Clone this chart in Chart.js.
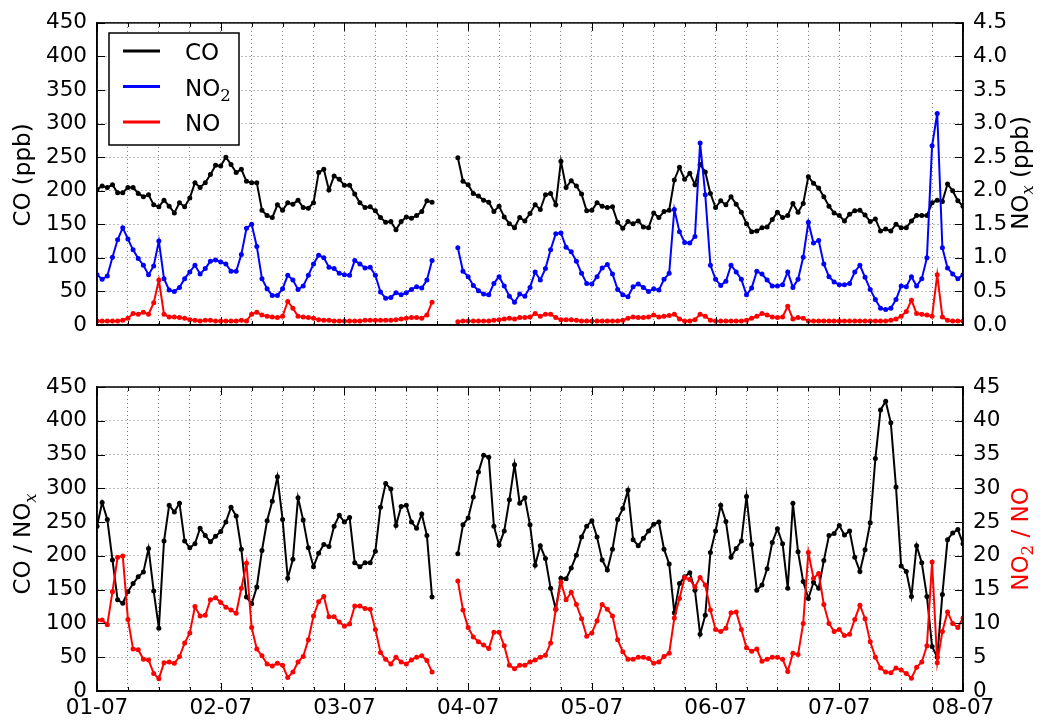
<!DOCTYPE html>
<html>
<head>
<title>CO and NOx time series</title>
<script src="https://cdn.jsdelivr.net/npm/chart.js"></script>
<style>
  body { margin: 0; background: white; }
  canvas { position: absolute; left: 0; }
</style>
</head>
<body>
<canvas id="top" width="1044" height="360" style="top:0px"></canvas>
<canvas id="bottom" width="1044" height="360" style="top:360px"></canvas>
<script>
// hourly values, 01-07 00:00 .. 08-07 00:00 (one row per day), null = no data
const dayLabels = ['01-07', '02-07', '03-07', '04-07', '05-07', '06-07', '07-07', '08-07'];

const co = [
  202,207,205,209,197,197,205,205,196,191,194,179,176,186,177,167,182,176,189,212,205,212,224,238,
  237,250,239,227,232,214,212,212,171,163,160,179,171,182,180,186,175,174,182,227,232,201,222,217,
  208,208,195,182,175,176,170,160,153,154,142,154,161,159,163,169,185,183,null,null,null,null,249,214,
  209,196,192,186,183,169,177,161,151,145,160,155,166,179,172,194,196,179,244,205,215,207,195,170,
  171,182,177,175,176,153,144,154,151,155,146,145,167,160,169,171,216,235,217,226,209,239,228,196,
  175,185,179,191,180,168,151,139,140,145,146,157,168,160,163,181,168,181,221,211,204,191,177,167,
  163,155,165,170,171,164,154,158,140,143,140,150,145,145,155,163,163,163,182,186,184,210,200,185,
  177
];

const no2 = [
  .75,.68,.73,1.01,1.27,1.45,1.28,1.12,.99,.89,.75,.88,1.25,.69,.52,.50,.56,.69,.79,.89,.76,.84,.95,.97,
  .94,.91,.80,.80,1.05,1.44,1.50,1.17,.69,.54,.44,.44,.54,.74,.67,.53,.58,.74,.91,1.04,1.00,.86,.84,.77,
  .75,.74,.96,.91,.85,.86,.74,.49,.40,.41,.48,.45,.48,.53,.57,.55,.67,.96,null,null,null,null,1.15,.80,
  .72,.59,.51,.46,.45,.62,.72,.58,.43,.34,.46,.43,.56,.79,.67,.84,1.12,1.36,1.37,1.16,1.09,.95,.77,.62,
  .61,.72,.85,.90,.76,.53,.45,.42,.57,.61,.56,.50,.54,.52,.68,.77,1.72,1.39,1.23,1.22,1.32,2.71,1.94,.89,
  .68,.59,.65,.89,.79,.68,.45,.55,.80,.76,.67,.58,.58,.60,.79,.56,.68,1.01,1.53,1.22,1.26,.91,.72,.64,
  .60,.60,.62,.79,.89,.71,.53,.38,.25,.23,.25,.38,.58,.57,.72,.58,.69,1.00,2.67,3.15,1.15,.85,.76,.69,
  .75
];

const no = [
  .06,.06,.06,.06,.06,.07,.10,.17,.16,.19,.16,.33,.67,.16,.12,.12,.11,.10,.08,.07,.06,.07,.07,.06,
  .06,.06,.06,.06,.07,.06,.16,.19,.15,.13,.12,.11,.13,.35,.25,.13,.12,.11,.10,.08,.07,.07,.06,.06,
  .06,.06,.06,.06,.07,.07,.07,.07,.07,.07,.08,.09,.10,.11,.11,.10,.15,.34,null,null,null,null,.05,.06,
  .06,.06,.06,.06,.06,.07,.08,.09,.10,.09,.11,.11,.12,.17,.13,.16,.16,.11,.08,.08,.08,.07,.06,.06,
  .06,.06,.06,.06,.06,.06,.07,.10,.12,.11,.11,.12,.15,.12,.13,.14,.16,.09,.06,.06,.08,.16,.13,.07,
  .06,.06,.06,.06,.06,.06,.07,.10,.13,.17,.15,.12,.11,.12,.28,.09,.11,.10,.06,.06,.06,.06,.06,.06,
  .06,.06,.06,.06,.06,.06,.06,.06,.06,.06,.07,.09,.13,.20,.37,.17,.16,.15,.13,.75,.12,.07,.06,.06,
  .06
];

const coNox = [
  244,279,254,194,135,130,147,159,169,176,211,148,93,222,275,265,278,222,212,218,241,230,221,229,
  236,250,272,259,210,139,129,154,208,252,281,317,254,167,195,286,253,212,184,204,217,214,244,260,
  250,257,190,184,190,190,207,272,307,299,245,273,275,250,241,262,230,139,null,null,null,null,203,246,
  256,287,324,349,346,244,216,237,283,335,278,286,246,186,215,196,152,121,167,166,182,201,228,244,
  252,228,194,179,210,254,270,297,224,215,226,237,247,250,210,188,116,159,169,175,149,84,112,205,
  237,275,251,198,211,222,288,217,149,157,181,220,240,218,152,278,206,162,137,161,152,193,230,233,
  245,231,237,198,177,209,249,344,416,429,397,302,185,177,140,215,190,140,66,50,143,224,234,239,
  218
];

const no2No = [
  10.5,10.5,9.8,14.7,19.8,20.0,10.6,6.2,6.1,4.7,4.6,2.6,1.8,4.2,4.3,4.1,5.1,7.1,8.6,12.5,11.1,11.2,13.5,13.8,
  13.1,12.4,12.0,11.5,15.2,18.9,9.4,6.2,5.2,4.0,3.7,4.1,3.8,2.0,2.8,4.3,5.1,7.6,11.1,13.2,14.0,11.0,11.0,10.2,
  9.6,9.9,12.6,12.6,12.2,12.1,9.1,5.7,4.7,4.0,5.0,4.3,4.0,4.6,5.0,5.2,4.5,2.8,null,null,null,null,16.3,12.0,
  9.4,8.0,7.3,6.8,6.3,8.7,8.7,6.7,3.8,3.3,3.8,3.8,4.3,4.6,5.0,5.3,7.1,12.1,16.1,13.5,14.6,12.8,10.7,8.1,
  8.6,10.4,12.8,12.1,11.1,7.6,5.8,4.7,4.7,5.0,5.0,4.8,4.1,4.3,5.1,5.6,10.8,13.7,16.8,16.5,15.4,16.8,15.7,12.0,
  9.1,8.8,9.3,11.6,11.7,9.1,6.4,5.9,6.2,4.4,4.7,5.0,5.0,4.7,2.9,5.6,5.4,10.0,20.5,16.7,17.4,12.8,10.0,8.8,
  9.1,8.2,8.4,10.6,12.7,10.7,7.3,5.0,3.4,2.8,2.7,3.4,3.1,2.6,1.9,3.5,4.3,6.7,19.1,4.2,8.8,11.7,10.0,9.4,
  10.8
];

// hours since 01-07 00:00
const hours = co.map((v, i) => i);

const FONT = 'DejaVu Sans';

function pts(arr) {
  return arr.map((v, i) => ({ x: hours[i], y: v }));
}

function series(label, arr, color, axis, order) {
  return {
    label: label,
    data: pts(arr),
    yAxisID: axis,
    borderColor: color,
    backgroundColor: color,
    pointBackgroundColor: color,
    order: order,
    spanGaps: false
  };
}

// text with optional subscripts, drawn at a baseline point
function drawRich(ctx, parts, size, color, x, y, rot, align) {
  ctx.save();
  ctx.translate(x, y);
  ctx.rotate(rot);
  ctx.fillStyle = color;
  ctx.textBaseline = 'alphabetic';
  ctx.textAlign = 'left';
  const fonts = parts.map(p => (p.italic ? 'italic ' : '') + (p.sub ? size * 0.72 : size) + 'px "' + (p.serif ? 'DejaVu Serif' : FONT) + '"');
  let total = 0;
  const widths = parts.map((p, i) => {
    ctx.font = fonts[i];
    const w = ctx.measureText(p.t).width;
    total += w;
    return w;
  });
  let cx = align === 'left' ? 0 : -total / 2;
  parts.forEach((p, i) => {
    ctx.font = fonts[i];
    ctx.fillText(p.t, cx, p.sub ? size * 0.25 : 0);
    cx += widths[i];
  });
  ctx.restore();
}

// matplotlib style frame: inward ticks, box, rotated axis labels, legend
const framePlugin = {
  id: 'frame',
  afterDraw(chart, args, opts) {
    const { ctx, chartArea: a, scales } = chart;
    ctx.save();
    ctx.strokeStyle = 'black';
    ctx.lineWidth = 1;
    const line = (x1, y1, x2, y2) => { ctx.beginPath(); ctx.moveTo(x1, y1); ctx.lineTo(x2, y2); ctx.stroke(); };
    scales.x.ticks.forEach(t => {
      const x = Math.round(scales.x.getPixelForValue(t.value)) + 0.5;
      const len = t.value % 24 === 0 ? 8 : 4;
      line(x, a.top, x, a.top + len);
      line(x, a.bottom, x, a.bottom - len);
    });
    scales.y.ticks.forEach(t => {
      const y = Math.round(scales.y.getPixelForValue(t.value)) + 0.5;
      line(a.left, y, a.left + 8, y);
    });
    scales.y2.ticks.forEach(t => {
      const y = Math.round(scales.y2.getPixelForValue(t.value)) + 0.5;
      line(a.right, y, a.right - 8, y);
    });
    ctx.lineWidth = 1.5;
    ctx.strokeRect(a.left, a.top, a.right - a.left, a.bottom - a.top);
    ctx.restore();

    drawRich(ctx, opts.leftTitle, 23, 'black', 30, opts.leftY, -Math.PI / 2, 'center');
    drawRich(ctx, opts.rightTitle, 23, opts.rightColor, 1027.5, opts.rightY, -Math.PI / 2, 'center');

    if (opts.legend) {
      ctx.save();
      ctx.fillStyle = 'white';
      ctx.fillRect(109, 33, 130, 112);
      ctx.lineWidth = 1.5;
      ctx.strokeStyle = 'black';
      ctx.strokeRect(109, 33, 130, 112);
      opts.legend.forEach((item, i) => {
        const y = 51 + i * 35.5;
        ctx.strokeStyle = item.color;
        ctx.lineWidth = 3;
        ctx.beginPath();
        ctx.moveTo(123, y);
        ctx.lineTo(160, y);
        ctx.stroke();
        drawRich(ctx, item.parts, 23, 'black', 185, y + 9, 0, 'left');
      });
      ctx.restore();
    }
  }
};

function makeChart(id, datasets, cfg) {
  return new Chart(document.getElementById(id), {
    type: 'line',
    data: { datasets: datasets },
    options: {
      responsive: false,
      animation: false,
      devicePixelRatio: 1,
      layout: { padding: { top: cfg.padTop, left: 0, right: 0, bottom: 0 } },
      elements: {
        line: { borderWidth: 2, tension: 0 },
        point: { radius: 2.5, borderWidth: 0, hoverRadius: 2.5 }
      },
      plugins: {
        legend: { display: false },
        tooltip: { enabled: false },
        frame: cfg.frame
      },
      scales: {
        x: {
          type: 'linear',
          min: 0,
          max: 168,
          afterFit: s => { s.height = cfg.xHeight; },
          ticks: {
            display: cfg.xLabels,
            stepSize: 6,
            autoSkip: false,
            maxRotation: 0,
            padding: 5,
            color: 'black',
            font: { family: FONT, size: 21.5 },
            callback: v => (v % 24 === 0 ? dayLabels[v / 24] : '')
          },
          grid: { color: '#777', lineWidth: 1, drawTicks: false },
          border: { color: 'black', width: 1.5, dash: [1, 3] }
        },
        y: {
          position: 'left',
          min: 0,
          max: 450,
          afterFit: s => { s.width = 97; },
          ticks: {
            stepSize: 50,
            padding: 10,
            color: 'black',
            font: { family: FONT, size: 21.5 }
          },
          grid: { color: '#777', lineWidth: 1, drawTicks: false },
          border: { color: 'black', width: 1.5, dash: [1, 3] }
        },
        y2: {
          position: 'right',
          min: 0,
          max: cfg.y2Max,
          afterFit: s => { s.width = 81; },
          ticks: {
            stepSize: cfg.y2Step,
            padding: 10,
            color: 'black',
            font: { family: FONT, size: 21.5 },
            callback: cfg.y2Format
          },
          grid: { drawOnChartArea: false, drawTicks: false },
          border: { color: 'black', width: 1.5 }
        }
      }
    },
    plugins: [framePlugin]
  });
}

makeChart('top', [
  series('CO', co, '#000000', 'y', 3),
  series('NO2', no2, '#0000ff', 'y2', 2),
  series('NO', no, '#ff0000', 'y2', 1)
], {
  padTop: 21,
  xHeight: 35,
  xLabels: false,
  y2Max: 4.5,
  y2Step: 0.5,
  y2Format: v => v.toFixed(1),
  frame: {
    leftTitle: [{ t: 'CO (ppb)' }],
    leftY: 175,
    rightTitle: [{ t: 'NO' }, { t: 'x', sub: true, italic: true, serif: true }, { t: ' (ppb)' }],
    rightY: 173,
    rightColor: 'black',
    legend: [
      { color: '#000000', parts: [{ t: 'CO' }] },
      { color: '#0000ff', parts: [{ t: 'NO' }, { t: '2', sub: true, serif: true }] },
      { color: '#ff0000', parts: [{ t: 'NO' }] }
    ]
  }
});

makeChart('bottom', [
  series('CO / NOx', coNox, '#000000', 'y', 2),
  series('NO2 / NO', no2No, '#ff0000', 'y2', 1)
], {
  padTop: 27,
  xHeight: 29,
  xLabels: true,
  y2Max: 45,
  y2Step: 5,
  y2Format: v => String(v),
  frame: {
    leftTitle: [{ t: 'CO / NO' }, { t: 'x', sub: true, italic: true, serif: true }],
    leftY: 184,
    rightTitle: [{ t: 'NO' }, { t: '2', sub: true, serif: true }, { t: ' / NO' }],
    rightY: 179,
    rightColor: '#ff0000',
    legend: null
  }
});
</script>
</body>
</html>
